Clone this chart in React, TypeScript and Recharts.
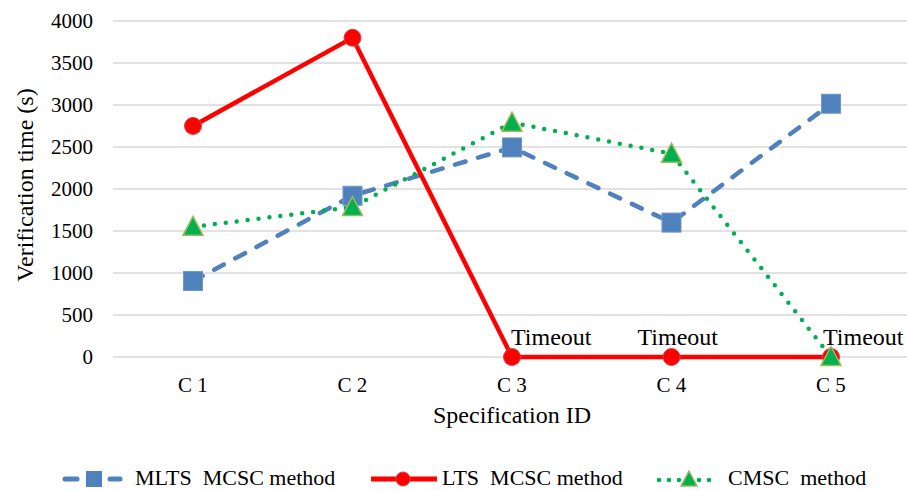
import React from 'react';
import { LineChart, Line, XAxis, YAxis, CartesianGrid, Legend, LabelList } from 'recharts';

const categories = ['C 1', 'C 2', 'C 3', 'C 4', 'C 5'];
const mltsMcsc = [905, 1920, 2495, 1600, 3015];
const ltsMcsc = [2750, 3800, 0, 0, 0];
const cmsc = [1550, 1785, 2790, 2420, 0];
const ltsNotes = ['', '', 'Timeout', 'Timeout', 'Timeout'];
const yTicks = [0, 500, 1000, 1500, 2000, 2500, 3000, 3500, 4000];

const data = categories.map((name, i) => ({
    name,
    mlts: mltsMcsc[i],
    lts: ltsMcsc[i],
    cmsc: cmsc[i],
    note: ltsNotes[i],
}));

const SERIF = 'Liberation Serif, Tinos, DejaVu Serif, serif';
const BLUE = '#4f81bd';
const RED = '#ff0000';
const GREEN = '#00b050';

// where each "Timeout" note starts, relative to its point
const noteShift = [0, 0, -1, -34, -8];

const SquareDot: React.FC<any> = ({ cx, cy }) => {
    if (cx == null || cy == null) return null;
    return <rect x={cx - 9.5} y={cy - 9.5} width={19} height={19} fill={BLUE} stroke="#6f97c9" strokeWidth={1} />;
};

const CircleDot: React.FC<any> = ({ cx, cy }) => {
    if (cx == null || cy == null) return null;
    return <circle cx={cx} cy={cy} r={8.5} fill={RED} stroke="#d0444a" strokeWidth={1} />;
};

const TriangleDot: React.FC<any> = ({ cx, cy }) => {
    if (cx == null || cy == null) return null;
    return (
        <polygon
            points={`${cx},${cy - 10.5} ${cx + 10},${cy + 8.5} ${cx - 10},${cy + 8.5}`}
            fill={GREEN}
            stroke="#9bbb59"
            strokeWidth={1.5}
        />
    );
};

const NoteLabel: React.FC<any> = ({ x, y, value, index }) => {
    if (!value) return null;
    return (
        <text x={x + noteShift[index]} y={y - 12} style={{ fontFamily: SERIF }} fontSize={24} fill="#000">
            {value}
        </text>
    );
};

const YTitle: React.FC<any> = () => (
    <text
        x={25}
        y={185}
        transform="rotate(-90 25 185)"
        textAnchor="middle"
        dominantBaseline="central"
        style={{ fontFamily: SERIF }}
        fontSize={24}
        fill="#000"
    >
        Verification time (s)
    </text>
);

const legendText = { fontSize: 22, fill: '#000', style: { whiteSpace: 'pre' as const } };

const LegendRow: React.FC<any> = () => (
    <svg width={907} height={24} style={{ display: 'block', fontFamily: SERIF }}>
        <g>
            <line x1={65} y1={13} x2={77} y2={13} stroke={BLUE} strokeWidth={5} strokeLinecap="round" />
            <line x1={110} y1={13} x2={120} y2={13} stroke={BLUE} strokeWidth={5} strokeLinecap="round" />
            <rect x={86} y={5} width={16} height={16} fill={BLUE} />
            <text x={135} y={19} {...legendText}>MLTS  MCSC method</text>
        </g>
        <g>
            <line x1={371} y1={13} x2={437} y2={13} stroke={RED} strokeWidth={5} />
            <circle cx={403} cy={13} r={7} fill={RED} stroke="#d0444a" strokeWidth={1} />
            <text x={442} y={19} {...legendText}>LTS  MCSC method</text>
        </g>
        <g>
            <line x1={659} y1={14} x2={717} y2={14} stroke={GREEN} strokeWidth={4.5} strokeLinecap="round" strokeDasharray="0 10" />
            <polygon points="689,5 697,20 681,20" fill={GREEN} stroke="#9bbb59" strokeWidth={1.5} />
            <text x={728} y={19} {...legendText}>CMSC  method</text>
        </g>
    </svg>
);

const tickStyle = { fontSize: 21, fill: '#000', style: { fontFamily: SERIF } };

const App: React.FC = () => {
    return (
        <div style={{ position: 'fixed', left: 0, top: 0, width: 907, height: 491, overflow: 'hidden', background: '#fff', fontFamily: SERIF }}>
            <LineChart width={920} height={491} data={data} margin={{ top: 21, right: 9, bottom: 40, left: 0 }} style={{ fontFamily: SERIF }}>
                <CartesianGrid horizontal vertical={false} stroke="#d9d9d9" strokeWidth={1.5} />
                <XAxis
                    dataKey="name"
                    height={70}
                    padding={{ left: 80, right: 80 }}
                    tickLine={false}
                    axisLine={false}
                    tickMargin={14}
                    tick={tickStyle}
                    label={{ value: 'Specification ID', position: 'insideBottom', offset: 4, fontSize: 24, fill: '#000', style: { fontFamily: SERIF } }}
                />
                <YAxis
                    width={113}
                    domain={[0, 4000]}
                    ticks={yTicks}
                    tickLine={false}
                    axisLine={false}
                    tickMargin={14}
                    tick={tickStyle}
                    label={<YTitle />}
                />
                <Legend verticalAlign="bottom" height={24} wrapperStyle={{ left: 0, top: 466, width: 907 }} content={<LegendRow />} />
                <Line
                    dataKey="mlts"
                    name="MLTS  MCSC method"
                    stroke={BLUE}
                    strokeWidth={4.5}
                    strokeDasharray="11 13"
                    strokeLinecap="round"
                    dot={<SquareDot />}
                    activeDot={false}
                    isAnimationActive={false}
                />
                <Line
                    dataKey="lts"
                    name="LTS  MCSC method"
                    stroke={RED}
                    strokeWidth={4.5}
                    dot={<CircleDot />}
                    activeDot={false}
                    isAnimationActive={false}
                >
                    <LabelList dataKey="note" content={<NoteLabel />} />
                </Line>
                <Line
                    dataKey="cmsc"
                    name="CMSC  method"
                    stroke={GREEN}
                    strokeWidth={4.5}
                    strokeDasharray="0 11"
                    strokeLinecap="round"
                    dot={<TriangleDot />}
                    activeDot={false}
                    isAnimationActive={false}
                />
            </LineChart>
        </div>
    );
};

export default App;
